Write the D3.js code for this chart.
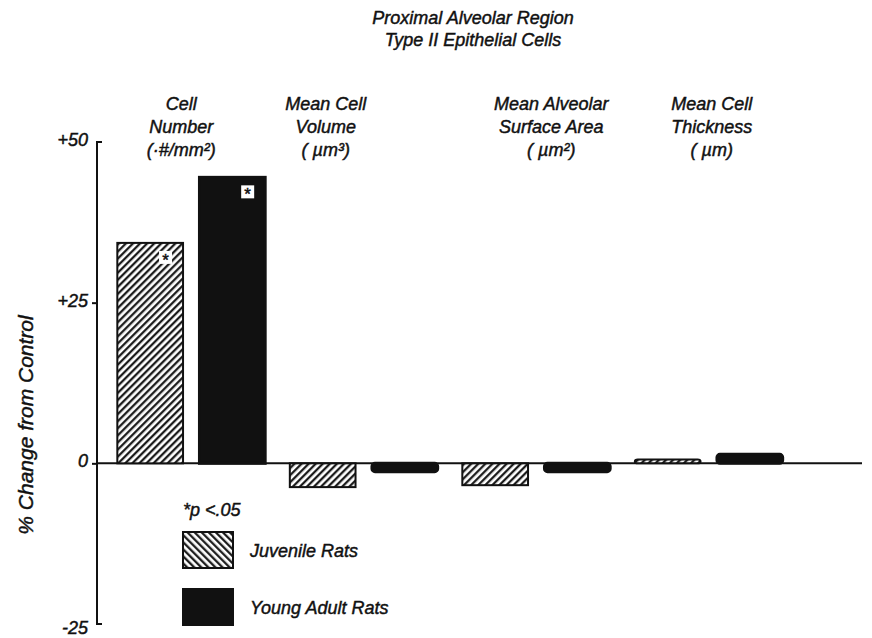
<!DOCTYPE html>
<html><head><meta charset="utf-8">
<script src="https://cdn.jsdelivr.net/npm/d3@7"></script>
<style>body{margin:0;background:#fff}svg{display:block}text{font-family:"Liberation Sans",Arial,sans-serif;font-style:italic;fill:#111;stroke:#111;stroke-width:0.45px}</style>
</head><body><div id="chart"></div>
<script>
const titleLines = ["Proximal Alveolar Region", "Type II Epithelial Cells"];
const categories = ["Cell Number", "Mean Cell Volume", "Mean Alveolar Surface Area", "Mean Cell Thickness"];
const categoryLabels = [
  ["Cell", "Number", "(·#/mm²)"],
  ["Mean Cell", "Volume", "( µm³)"],
  ["Mean Alveolar", "Surface Area", "( µm²)"],
  ["Mean Cell", "Thickness", "( µm)"]
];
const seriesNames = ["Juvenile Rats", "Young Adult Rats"];
const juvenile = [34.3, -3.7, -3.4, 0.6];
const youngAdult = [44.5, -1.3, -1.3, 1.4];
const significant = [[true, false, false, false], [true, false, false, false]];
const yTicks = [-25, 0, 25, 50];
const yTickLabels = ["-25", "0", "+25", "+50"];
const yLabel = "% Change from Control";
const pNote = "*p <.05";

const W = 872, H = 638;
const FS = 18;
const svg = d3.select("#chart").append("svg").attr("width", W).attr("height", H);
const defs = svg.append("defs");
function hatch(id, angle) {
  const p = defs.append("pattern").attr("id", id).attr("patternUnits", "userSpaceOnUse")
    .attr("width", 5).attr("height", 5).attr("patternTransform", `rotate(${angle})`);
  p.append("rect").attr("width", 5).attr("height", 5).attr("fill", "#fff");
  p.append("line").attr("x1", 1.2).attr("x2", 1.2).attr("y1", 0).attr("y2", 5)
    .attr("stroke", "#111").attr("stroke-width", 2.2);
}
hatch("hatchF", 45);
hatch("hatchB", -45);

const axisX = 97;
const y = d3.scaleLinear().domain([-25, 50]).range([624, 142]);
const x0 = d3.scaleBand().domain(categories).range([105, 795]).paddingInner(0).paddingOuter(0);
const x1 = d3.scaleBand().domain(seriesNames).range([0, x0.bandwidth()]).paddingInner(0.2).paddingOuter(0.15);

// title
svg.append("g").selectAll("text").data(titleLines).join("text")
  .attr("x", 473).attr("y", (d, i) => 24 + i * 22).attr("text-anchor", "middle")
  .attr("font-size", FS).text(d => d);

// category labels
const labelOffsets = [-10, -38, 15, 3];
categories.forEach((c, i) => {
  const cx = x0(c) + x0.bandwidth() / 2 + labelOffsets[i];
  svg.append("g").selectAll("text").data(categoryLabels[i]).join("text")
    .attr("x", cx).attr("y", (d, j) => 110 + j * 23).attr("text-anchor", "middle")
    .attr("font-size", FS).text(d => d);
});

// y axis
const yAxis = d3.axisLeft(y).tickValues(yTicks).tickFormat((d, i) => yTickLabels[i]).tickSize(5).tickPadding(4);
const ga = svg.append("g").attr("transform", `translate(${axisX},0)`).call(yAxis);
ga.select(".domain").attr("stroke", "#111").attr("stroke-width", 2).attr("d", `M5,${y(50)}H0V${y(-25)}H5`);
ga.selectAll(".tick line").attr("stroke", "#111").attr("stroke-width", 2).attr("x2", d => (d === 50 || d === -25) ? 0 : -5);
ga.selectAll(".tick text").attr("font-size", FS).attr("fill", "#111").attr("dy", d => d === -25 ? "0.55em" : "0.2em")
  .style("font-family", "Liberation Sans, Arial").style("font-style", "italic");

// zero line
svg.append("line").attr("x1", axisX).attr("x2", 862).attr("y1", y(0)).attr("y2", y(0))
  .attr("stroke", "#111").attr("stroke-width", 2);

// y label
svg.append("text").attr("transform", `translate(33,425) rotate(-90)`).attr("text-anchor", "middle")
  .attr("font-size", 21).text(yLabel);

// bars
const series = [juvenile, youngAdult];
const fills = ["url(#hatchF)", "#111"];
series.forEach((vals, s) => {
  const g = svg.append("g");
  g.selectAll("rect").data(vals).join("rect")
    .attr("x", (d, i) => x0(categories[i]) + x1(seriesNames[s]))
    .attr("width", x1.bandwidth())
    .attr("y", d => y(Math.max(0, d)))
    .attr("height", d => Math.abs(y(d) - y(0)))
    .attr("fill", fills[s]).attr("stroke", "#111").attr("stroke-width", s === 1 ? 3 : 2)
    .attr("rx", (d) => Math.abs(d) < 3 ? 3 : 0);
  vals.forEach((v, i) => {
    if (!significant[s][i]) return;
    const bx = x0(categories[i]) + x1(seriesNames[s]) + x1.bandwidth() - 24;
    const by = y(v) + 8;
    svg.append("rect").attr("x", bx).attr("y", by).attr("width", 13).attr("height", 13).attr("fill", "#fff");
    svg.append("text").attr("x", bx + 6.5).attr("y", by + 15).attr("text-anchor", "middle")
      .attr("font-size", 17).style("font-style", "normal").text("*");
  });
});

// legend
svg.append("text").attr("x", 183).attr("y", 516).attr("font-size", FS).text(pNote);
const legFills = ["url(#hatchB)", "#111"];
seriesNames.forEach((n, i) => {
  svg.append("rect").attr("x", 183).attr("y", 532 + i * 57).attr("width", 50).attr("height", 36)
    .attr("fill", legFills[i]).attr("stroke", "#111").attr("stroke-width", 2);
  svg.append("text").attr("x", 250).attr("y", 557 + i * 57).attr("font-size", FS).text(n);
});
</script></body></html>
